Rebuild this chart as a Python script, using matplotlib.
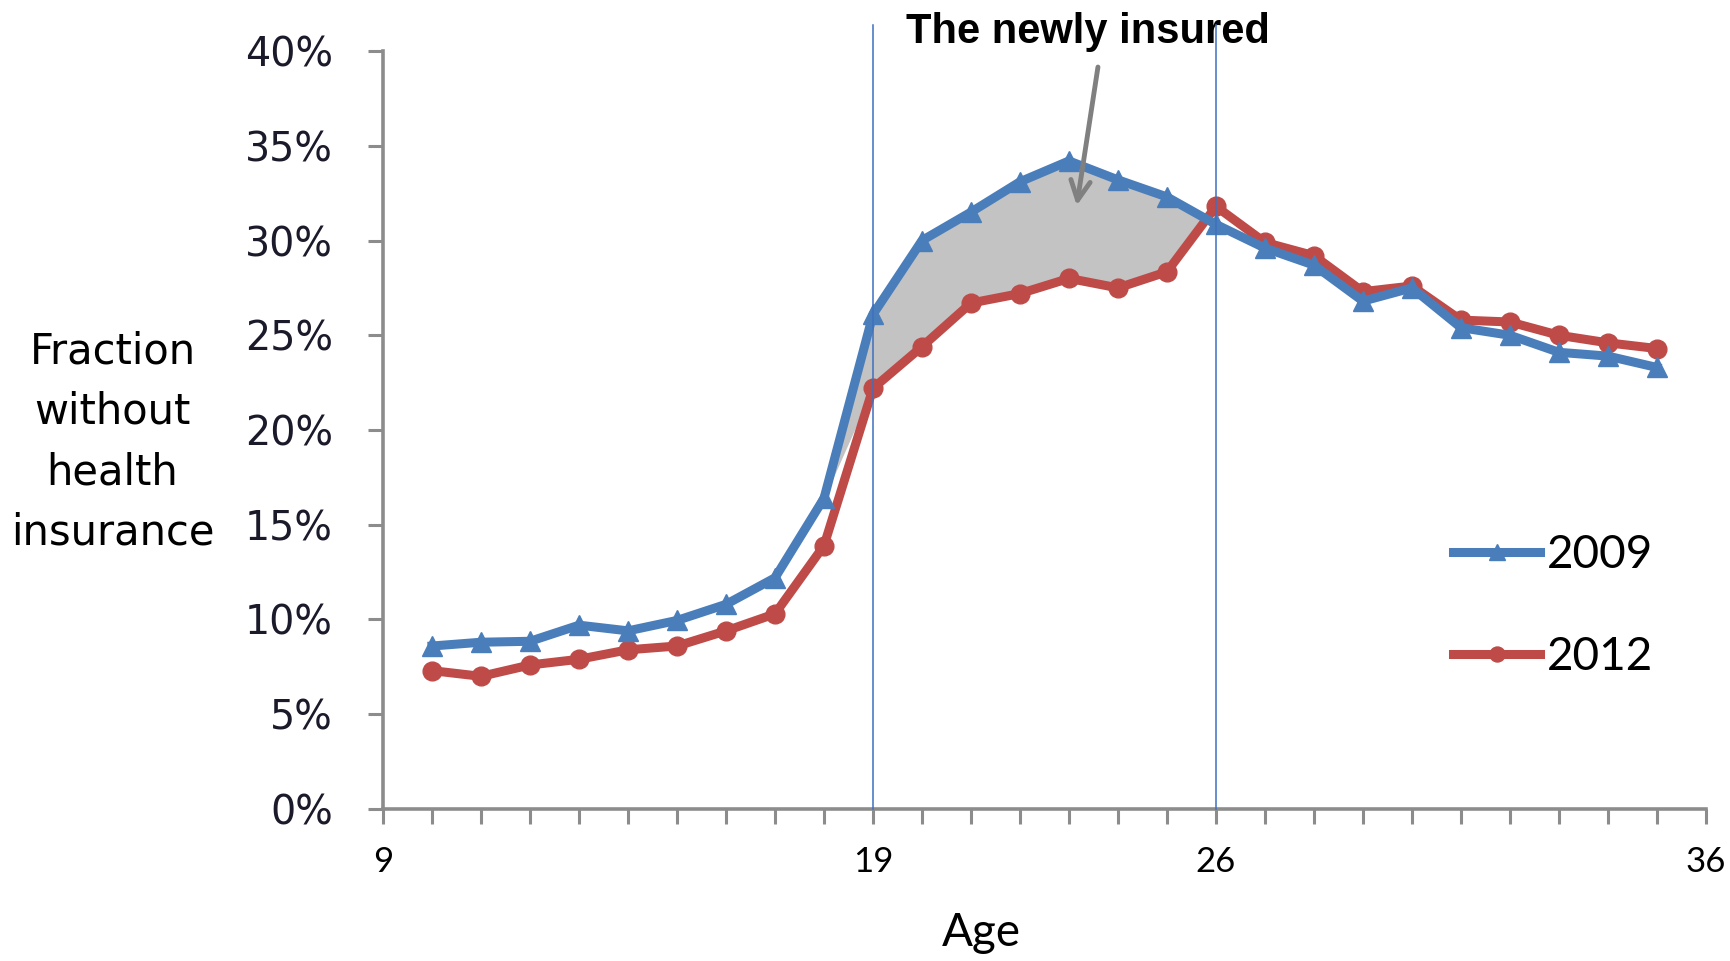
import matplotlib
matplotlib.use("Agg")
import matplotlib.pyplot as plt
import numpy as np

# Share of people without health insurance, by age
ages = np.arange(10, 36)
uninsured_2009 = [8.6, 8.8, 8.85, 9.7, 9.4, 9.95, 10.8, 12.2, 16.4, 26.1,
                  30.0, 31.5, 33.1, 34.2, 33.2, 32.3, 30.85, 29.6, 28.7, 26.8,
                  27.5, 25.4, 25.0, 24.1, 23.9, 23.3]
uninsured_2012 = [7.3, 7.0, 7.6, 7.9, 8.4, 8.6, 9.4, 10.3, 13.9, 22.2,
                  24.4, 26.7, 27.2, 28.0, 27.5, 28.35, 31.8, 29.9, 29.2, 27.3,
                  27.6, 25.8, 25.7, 25.0, 24.6, 24.3]
policy_ages = [19, 26]
xtick_labels = {9: "9", 19: "19", 26: "26", 36: "36"}
yticks = np.arange(0, 41, 5)

blue = "#4A7EBB"
red = "#BE4B48"
axis_grey = "#8C8C8C"

fig = plt.figure(figsize=(17.31, 9.61), dpi=100)
ax = fig.add_axes([0.2213, 0.1582, 0.7642, 0.7887])

y09 = np.array(uninsured_2009)
y12 = np.array(uninsured_2012)

# shaded gap between the two years inside the policy window
window = (ages >= policy_ages[0]) & (ages <= policy_ages[1]) & (y09 >= y12)
ax.fill_between(ages, y09, y12, where=window, interpolate=True,
                color="#C3C3C3", lw=0, zorder=1)

ax.plot(ages, y09, color=blue, lw=6.5, marker="^", ms=15,
        label="2009", zorder=3)
ax.plot(ages, y12, color=red, lw=6.5, marker="o", ms=13.5,
        label="2012", zorder=2)

for a in policy_ages:
    ax.plot([a, a], [0, 41.4], color="#3F6FC0", lw=1.1, zorder=4,
            clip_on=False)

ax.set_xlim(9, 36)
ax.set_ylim(0, 40)

ax.set_xticks(np.arange(9, 37))
ax.set_xticklabels([xtick_labels.get(t, "") for t in range(9, 37)],
                   family="Lato", fontsize=25)
ax.set_yticks(yticks)
ax.set_yticklabels([f"{v}%" for v in yticks], family="DejaVu Sans",
                   fontsize=28.5, color="#1a1a2a")

ax.tick_params(axis="x", direction="out", length=11, width=2.2,
               color=axis_grey, pad=16)
ax.tick_params(axis="y", direction="out", length=11, width=2.2,
               color=axis_grey, pad=25)

for side in ["top", "right"]:
    ax.spines[side].set_visible(False)
for side in ["left", "bottom"]:
    ax.spines[side].set_color(axis_grey)
    ax.spines[side].set_linewidth(2.6)

ax.set_xlabel("Age", family="Lato", fontsize=33)
ax.xaxis.set_label_coords(0.452, -0.136)

fig.text(0.065, 0.54, "Fraction\nwithout\nhealth\ninsurance",
         ha="center", va="center", fontsize=30, family="DejaVu Sans",
         linespacing=1.55)

ax.annotate("", xy=(23.15, 31.7), xytext=(23.6, 39.3),
            arrowprops=dict(arrowstyle="->", color="#808080", lw=3.5,
                            mutation_scale=35), zorder=5,
            annotation_clip=False)
ax.text(23.38, 41.0, "The newly insured", ha="center", va="center",
        family="Liberation Sans", fontweight="bold", fontsize=30,
        clip_on=False)

ax.legend(loc="center left", bbox_to_anchor=(0.809, 0.268), frameon=False,
          handlelength=1.9, handletextpad=0.15,
          labelspacing=1.3, borderaxespad=0, borderpad=0,
          prop={"family": "Lato", "size": 33}, markerscale=0.8)

fig.savefig("out.png", dpi=100)
